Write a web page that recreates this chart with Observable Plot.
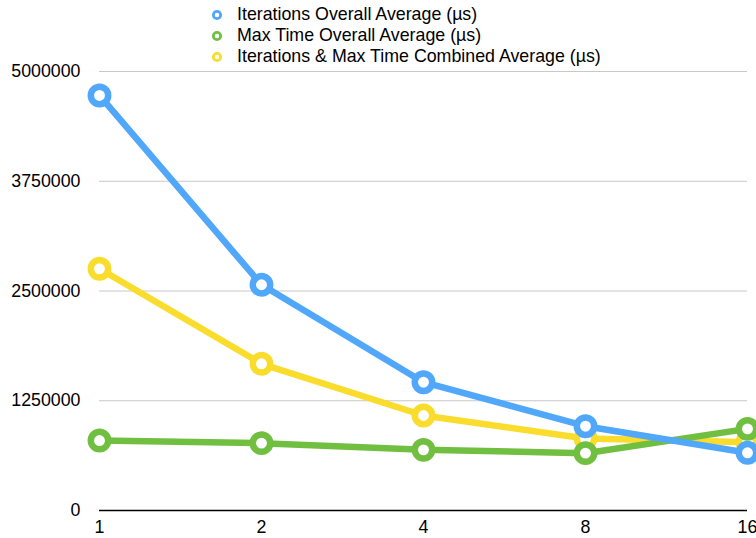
<!DOCTYPE html>
<html>
<head>
<meta charset="utf-8">
<script src="https://cdn.jsdelivr.net/npm/d3@7"></script>
<script src="https://cdn.jsdelivr.net/npm/@observablehq/plot@0.6"></script>
<style>
  body { margin: 0; background: #fff; font-family: "Liberation Sans", Arial, Helvetica, sans-serif; }
  #wrap { width: 756px; }
  #legend { height: 62px; box-sizing: border-box; padding-top: 4px; padding-left: 211px; font-size: 17.8px; line-height: 21px; color: #000; }
  #legend .row { display: flex; align-items: center; white-space: nowrap; }
  #legend svg { margin-right: 14px; }
</style>
</head>
<body>
<div id="wrap">
  <div id="legend"></div>
  <div id="chart"></div>
</div>
<script>
const xLabels = ["1", "2", "4", "8", "16"];
const yTicks = [0, 1250000, 2500000, 3750000, 5000000];
const seriesNames = [
  "Iterations Overall Average (µs)",
  "Max Time Overall Average (µs)",
  "Iterations & Max Time Combined Average (µs)"
];
const seriesColors = ["#51A7F9", "#70BF41", "#F9DC2C"];
const iterationsAvg = [4727000, 2571000, 1461000, 960000, 657000];
const maxTimeAvg = [797000, 767000, 691000, 653000, 930000];
const combinedAvg = [2753000, 1671000, 1082000, 820000, 778000];

const seriesValues = [iterationsAvg, maxTimeAvg, combinedAvg];
const rows = [];
seriesValues.forEach((vals, s) => {
  vals.forEach((v, i) => rows.push({series: seriesNames[s], x: xLabels[i], y: v}));
});

// legend
const legend = document.getElementById("legend");
seriesNames.forEach((name, i) => {
  const row = document.createElement("div");
  row.className = "row";
  row.innerHTML = `<svg width="12" height="12"><circle cx="6" cy="6" r="3.7" fill="white" stroke="${seriesColors[i]}" stroke-width="2.8"/></svg><span>${name}</span>`;
  legend.appendChild(row);
});

// draw order: yellow (bottom), green, blue (top)
const order = [2, 1, 0];
const marks = [
  Plot.ruleY(yTicks.filter(d => d !== 0), {stroke: "#c8c8c8", strokeWidth: 1}),
  Plot.ruleY([0], {stroke: "#000", strokeWidth: 1.5})
];
order.forEach(s => {
  const data = rows.filter(d => d.series === seriesNames[s]);
  marks.push(Plot.line(data, {x: "x", y: "y", stroke: seriesColors[s], strokeWidth: 6.5, strokeLinejoin: "round"}));
  marks.push(Plot.dot(data, {x: "x", y: "y", r: 8.7, fill: "white", stroke: seriesColors[s], strokeWidth: 6.5}));
});

const chart = Plot.plot({
  width: 756,
  height: 476,
  marginTop: 9,
  marginBottom: 28,
  marginLeft: 99,
  marginRight: 9,
  style: {fontFamily: "'Liberation Sans', Arial, Helvetica, sans-serif", fontSize: "17.8px", color: "#000", background: "white"},
  x: {type: "point", domain: xLabels, padding: 0, label: null, tickSize: 0, tickPadding: 10},
  y: {domain: [0, 5000000], ticks: yTicks, tickFormat: d => String(d), label: null, tickSize: 0, tickPadding: 19},
  marks
});
document.getElementById("chart").appendChild(chart);
</script>
</body>
</html>
